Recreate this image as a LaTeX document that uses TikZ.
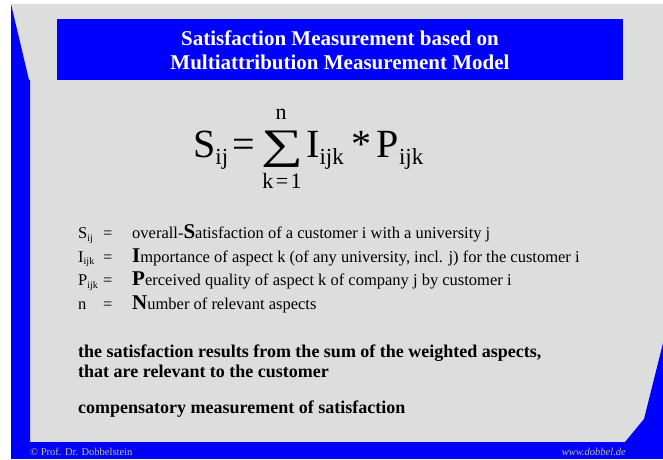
\documentclass[tikz,border=0pt]{standalone}
\usepackage{fontspec}
\setmainfont{Liberation Serif}
\definecolor{slideblue}{RGB}{0,0,255}
\definecolor{slidegray}{RGB}{221,221,221}
\definecolor{footcolor}{RGB}{196,196,128}
\def\rowtop{238.5}
\def\rowgap{23.5}
\newcommand{\lowsub}[1]{\raisebox{-7pt}{\fontsize{23}{23}\selectfont #1}}
\newcommand{\defsub}[1]{\raisebox{-2.5pt}{\fontsize{10}{10}\selectfont #1}}
\newcommand{\initial}[1]{{\fontsize{21}{21}\selectfont\bfseries #1}}

\begin{document}
\begin{tikzpicture}[x=1pt,y=-1pt,
    every node/.style={inner sep=0pt},
    titletext/.style={anchor=base,text=white,font=\fontsize{21}{24}\selectfont\bfseries},
    bigmath/.style={anchor=base west,font=\fontsize{40}{40}\selectfont},
    limit/.style={anchor=base,font=\fontsize{22}{22}\selectfont},
    deftext/.style={anchor=base west,font=\fontsize{16.5}{19}\selectfont},
    boldtext/.style={anchor=base west,align=left,font=\fontsize{18}{19.5}\selectfont\bfseries},
    foottext/.style={text=footcolor,font=\fontsize{10.5}{12}\selectfont}]
    \useasboundingbox (0,0) rectangle (663,459);
    \fill[white] (0,0) rectangle (663,459);
    \fill[slidegray] (11,4) rectangle (663,442);
    \fill[slideblue] (11,442) rectangle (663,459);
    \fill[slideblue] (11,4)--(29,80)--(30,80)--(30,442)--(11,442)--cycle;
    \fill[slideblue] (663,343)--(644,419)--(625,442)--(663,442)--cycle;
    \fill[slideblue] (57,19) rectangle (623,80);

    \node[titletext] (title1) at (340,45) {Satisfaction Measurement based on};
    \node[titletext] (title2) at (340,69) {Multiattribution Measurement Model};

    \node[bigmath] (lhs) at (193,157) {S\lowsub{ij}\hspace{4pt}=};
    \node[anchor=center,font=\fontsize{42}{42}\selectfont] (sigma) at (282,149) {\scalebox{1.4}[1]{∑}};
    \node[limit] (upper) at (281,119) {n};
    \node[limit] (lower) at (282,188) {k\hspace{2.5pt}=\hspace{2.5pt}1};
    \node[bigmath] (rhs) at (306,157) {I\lowsub{ijk}\hspace{8pt}*\hspace{5pt}P\lowsub{ijk}};

    \foreach \sym/\txt [count=\r,evaluate={\y=\rowtop+(\r-1)*\rowgap}] in {
        {S\defsub{ij}}/{overall-\initial{S}atisfaction of a customer i with a university j},
        {I\defsub{ijk}}/{\initial{I}mportance of aspect k (of any university, incl. j) for the customer i},
        {P\defsub{ijk}}/{\initial{P}erceived quality of aspect k of company j by customer i},
        {n}/{\initial{N}umber of relevant aspects}} {
        \node[deftext] (sym\r) at (78,\y) {\sym};
        \node[deftext] (eq\r) at (103,\y) {=};
        \node[deftext] (def\r) at (132,\y) {\txt};
    }

    \node[boldtext] (result) at (78,377) {the satisfaction results from the sum of the weighted aspects,\\that are relevant to the customer};
    \node[boldtext] (comp) at (78,413) {compensatory measurement of satisfaction};

    \node[foottext,anchor=base west] (author) at (30,455) {© Prof. Dr. Dobbelstein};
    \node[foottext,anchor=base east,font=\fontsize{10.5}{12}\selectfont\itshape] (web) at (626,455) {www.dobbel.de};
\end{tikzpicture}
\end{document}
